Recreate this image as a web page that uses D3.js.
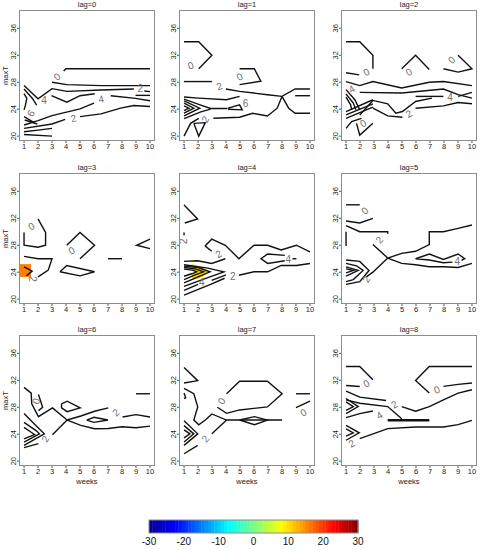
<!DOCTYPE html>
<html lang="en">
<head>
  <meta charset="UTF-8">
  <title>lag contours</title>
  <style>
  body { margin: 0; background: white; }
  svg { font-family: 'Liberation Sans', Arial, sans-serif; }
  .frame { fill: none; stroke: #8c8c8c; stroke-width: 1; }
  .contour { fill: none; stroke: #111; stroke-width: 1.4; stroke-linejoin: miter; }
  .clabel { fill: #707070; font-size: 10px; }
  .tick { font-size: 7.5px; fill: #222; }
  .title { font-size: 7.5px; fill: #222; }
  </style>
</head>
<body>
  <script src="https://d3js.org/d3.v7.min.js"></script>
  <script>

  var lags = [0, 1, 2, 3, 4, 5, 6, 7, 8];
  var weeks = [1, 2, 3, 4, 5, 6, 7, 8, 9, 10];
  var maxTTicks = [20, 24, 28, 32, 36];
  var legendTicks = [-30, -20, -10, 0, 10, 20, 30];

  // contour lines per lag, points are [week, maxT]
  var contourLines = [
    [ // lag 0
      [[3.83,29.65],[4,30],[10,30]],
      [[3.0,28.0],[4.06,27.65],[6.5,27.5],[10,27.5]],
      [[1,27.5],[2.0,25.55],[3.0,27.05],[4.06,26.65],[6.5,26.85],[8.85,27.0]],
      [[9.6,26.7],[10,26.6]],
      [[2.96,26.0],[4.06,25.05],[5.0,26.0],[6.05,26.3]],
      [[7.2,26.0],[8.97,25.6],[10,25.25]],
      [[8.97,26.05],[10,26.05]],
      [[5.0,22.9],[6.5,23.3],[7.9,24.15],[8.85,24.55],[10,24.4]],
      [[1,21.65],[2,22.3],[3,23.05],[5,24.05],[6,24.9]],
      [[1,21.15],[3,21.8],[3.94,22.5]],
      [[1,20.65],[2,20.9],[3,21.15]],
      [[1,20.25],[3,20]],
      [[1,26.3],[1.2,25.6],[1.1,24.6],[1,23.9]],
      [[1,22.9],[1.72,22.0]],
      [[1,27.0],[1.6,25.6],[1.9,24.6]],
      [[1.05,22.4],[1.95,21.8]]
    ],
    [ // lag 1
      [[1,34],[2.05,34],[2.99,32],[2.05,30]],
      [[1,28.1],[2.99,28.1]],
      [[3.99,27],[4.97,26.65],[6.96,26.15],[8.0,25.9],[8.94,27],[10,27]],
      [[4.97,30],[6.02,30],[6.49,28.15],[4.97,27.65]],
      [[8.94,26],[10,26]],
      [[8.0,25.9],[8.48,24.15],[8.94,23.4],[10,23.4]],
      [[3.1,22.65],[4.97,22.8],[5.9,23.4],[6.96,23.0],[7.66,24.15],[8.0,25.9]],
      [[4.15,24.15],[4.97,24.65],[5.16,23.9],[4.15,24.0]],
      [[1,25.8],[2.05,25.65],[4.03,25.4],[4.97,25.9]],
      [[1,24.5],[1.35,24.15],[1,23.8]],
      [[1,24.9],[1.7,24.15],[1,23.4]],
      [[1,25.25],[2.12,24.15],[1,23.0]],
      [[1,25.5],[2.2,24.6],[2.9,24.1],[4.1,24.1]],
      [[1,22.6],[2.2,23.6],[2.9,24.0]],
      [[1,20],[1.47,21.9],[2.05,22.65]],
      [[1.7,21.9],[2.52,22],[2.05,20],[1.7,21.9]]
    ],
    [ // lag 2
      [[1,34],[1.98,34],[2.92,32],[2.92,30]],
      [[1,29.4],[1.94,29.1]],
      [[4.98,30],[5.97,32],[6.95,29.9]],
      [[7.96,30],[9.01,29.5],[10,30],[9.01,32]],
      [[1,28.1],[1.98,27.5],[2.92,28.1],[4.98,27.15],[6.95,28],[7.96,28.1],[10,27.5]],
      [[1.98,26.5],[4.98,26.4],[7.96,27],[9.01,26.15],[10,25.65]],
      [[5.97,25.9],[7.96,25.9]],
      [[9.01,25.9],[10,26.5]],
      [[1.98,23.15],[2.92,25.3],[3.98,24.8],[4.56,23.4],[5.03,23.65],[5.97,25.15],[7.14,25.65]],
      [[5.97,24.15],[7.96,24.5],[9.01,25],[10,24.8]],
      [[2.92,24.15],[3.98,23],[5.03,22.8]],
      [[1,26.9],[1.63,25.4],[1.98,23.9]],
      [[1,26.25],[1.52,24.9],[1.7,23.9]],
      [[1,25.8],[1.33,24.65],[1.4,23.9]],
      [[1,23.65],[2.92,25.4]],
      [[1,23.15],[2.92,24.8]],
      [[1,22.65],[2.92,24.3]],
      [[1,21.15],[1.4,22.15],[2.1,22.65]],
      [[1.75,21.9],[1.98,20.15],[2.92,21.9]]
    ],
    [ // lag 3
      [[1,29.9],[1,28.0],[2.0,27.7],[2.54,28.0],[2.54,29.9],[2.0,31.9]],
      [[1,26.35],[2.0,26.0],[3.0,26.0],[2.73,24.3],[2.0,23.3]],
      [[1.0,24.8],[1.58,24.16],[1.17,23.45]],
      [[4.05,28.0],[5.0,29.9],[6.04,28.0],[5.0,26.0]],
      [[3.57,24.06],[4.05,25.0],[6.04,24.06],[5.0,23.45],[3.57,24.06]],
      [[7.0,26.0],[8.0,26.0]],
      [[10,28.9],[9.05,28.0],[10,27.5]]
    ],
    [ // lag 4
      [[1,33.97],[1.97,31.9],[1.05,31.3]],
      [[1,29.9],[1,29.5]],
      [[2.5,27.9],[2.98,28.9],[3.95,28.0],[4.92,26.0],[6.0,28.0],[6.98,28.0],[7.94,27.3],[9.03,28.0],[10,27.0]],
      [[2.5,27.9],[2.98,27.1]],
      [[8.2,26.5],[6.98,26.7],[6.5,26.0],[6.98,25.3],[8.2,25.7]],
      [[8.75,26],[9.03,26]],
      [[4.92,23.55],[6.0,24.06],[6.98,24.06],[7.94,25.0],[9.03,25.0],[10,25.3]],
      [[1.0,25.6],[1.97,25.7],[2.98,25.3],[3.95,26.0]],
      [[1,25.1],[2.7,24.6],[3.85,24.06],[2.7,23.2],[1,21.9]],
      [[1,24.9],[2.0,24.7],[2.86,24.06],[2.0,23.3],[1,22.4]],
      [[1,24.7],[1.8,24.5],[2.4,24.06],[1.8,23.6],[1,22.9]],
      [[1,24.45],[1.6,24.3],[1.9,24.06],[1.6,23.8],[1,23.4]],
      [[1,20.6],[2.9,22.2],[3.9,23.1]],
      [[1,21.3],[2.0,22.2]],
      [[2.98,22.8],[4.0,23.6]]
    ],
    [ // lag 5
      [[1,34],[1.98,34]],
      [[1,31.6],[1.98,31.3],[2.92,32.0]],
      [[1,30.9],[1.98,30.0],[3.98,30.0],[3.98,29.7]],
      [[1,30.0],[1,27.9]],
      [[2.92,28.1],[3.98,26.1],[2.92,24.0],[2.45,23.3]],
      [[3.98,26.1],[4.98,26.8],[5.97,27.1],[6.95,28.1],[6.95,30.0],[7.96,30.0],[9.01,30.5],[10,31.0]],
      [[3.98,26.1],[4.98,25.3],[5.97,25.1],[6.95,24.8],[7.96,24.8],[9.01,24.7],[10,25.3]],
      [[8.6,25.5],[7.96,25.4],[6.95,25.8],[5.97,26.0],[6.95,26.7],[7.96,25.9],[9.01,26.7],[9.48,26.0],[9.25,25.75]],
      [[1,25.8],[1.98,25.6],[2.64,24.26],[1.98,22.6],[1,22.2]],
      [[1,25.3],[1.75,24.95],[2.22,24.26],[1.52,22.9],[1,22.6]],
      [[1,24.8],[1.87,24.26],[1,23.4]],
      [[1,24.5],[1.52,24.26],[1,23.9]]
    ],
    [ // lag 6
      [[1,30.95],[1.51,30.1],[1.55,28.5],[2.03,26.6],[3.03,27.9],[4.08,26.1]],
      [[4.08,26.1],[5.06,26.7],[6.04,27.4],[7.02,27.9]],
      [[4.08,26.1],[5.06,25.3],[6.04,24.8],[7.02,24.85],[8.0,25.1],[9.0,24.95],[10,25.2]],
      [[4.08,26.1],[3.03,23.9]],
      [[2.03,29.9],[2.33,28.0],[2.03,27.5]],
      [[3.68,28.5],[4.08,28.9],[5.01,27.9],[4.08,27.35],[3.68,27.9],[3.68,28.5]],
      [[5.48,26.1],[6.0,26.5],[7.0,26.1],[6.0,25.75],[5.48,26.1]],
      [[8.04,26.55],[9.0,26.9],[10,26.55]],
      [[9,30],[10,30]],
      [[1,27.07],[1.86,25.27],[2.45,24.05],[1.63,23.07],[1,22.34]],
      [[1,25.76],[1.86,24.54],[2.1,24.05],[1,22.83]],
      [[1,25.02],[1.51,24.29],[1.75,23.95],[1,23.32]],
      [[1,22.0],[2.03,22.6]]
    ],
    [ // lag 7
      [[1,33.9],[1.98,31.95],[1,31.6]],
      [[1,30.8],[1.7,30.0],[1.98,28.05],[1.7,26.1],[2.05,25.4],[2.52,26.1],[2.99,27.0],[4.04,26.1],[8.01,26.1]],
      [[1,30.1],[1.12,29.4],[1,29.3]],
      [[4.04,30.0],[4.97,31.85],[6.96,31.85],[8.01,30.0],[6.96,28.05],[4.97,27.6],[4.04,27.1],[3.38,28.0]],
      [[4.97,26.1],[6.03,26.6],[6.96,26.1],[6.03,25.4],[4.97,26.1]],
      [[9,30],[10,30]],
      [[9,27.95],[10,28.9]],
      [[1,26.0],[1.98,24.05],[1,22.34]],
      [[1,25.27],[1.7,24.05],[1,22.83]],
      [[1,24.63],[1.42,24.05],[1,23.46]],
      [[1,21.1],[1.98,22.34]],
      [[2.99,24.05],[4.04,26.1]]
    ],
    [ // lag 8
      [[1,34.04],[1.98,34.04],[2.92,32.07]],
      [[1,31.23],[1.98,31.08]],
      [[10,34.04],[6.95,34.04],[5.97,31.97],[6.95,30.1]],
      [[7.96,31.1],[9.01,31.4],[10,31.6]],
      [[1,30.4],[1.98,29.5],[3.86,29.0]],
      [[4.98,28.1],[5.97,27.4],[6.95,28.1],[7.96,29.1],[9.01,30.1],[10,30.6]],
      [[1,29.1],[1.98,28.6],[3.98,28.1],[4.98,26.3]],
      [[3.98,26.15],[6.95,26.15]],
      [[3.98,26.0],[6.95,26.0]],
      [[1,26.45],[1.98,27.05],[2.92,27.45]],
      [[1,29.3],[1.87,28.1],[1,27.05]],
      [[1,28.8],[1.52,28.1],[1,27.55]],
      [[1.98,23.35],[3.98,24.83],[5.97,25.07],[7.96,25.07],[9.01,25.42],[10,26.06]],
      [[1,25.3],[1.94,24.2],[1,23.1]],
      [[1,24.8],[1.52,24.2],[1,23.7]]
    ]
  ];

  // contour labels per lag: [week, maxT, text, angle]
  var contourLabels = [
    [[3.36,28.8,'0',-40],[2.43,25.25,'4',0],[6.51,25.5,'4',-10],[9.3,27.0,'2',0],[4.53,22.65,'2',-15],[1.49,23.4,'6',-60]],
    [[1.47,30.5,'0',-20],[3.52,27.4,'2',-20],[4.97,28.8,'0',-30],[5.39,24.8,'6',0],[2.52,22.5,'2',-60]],
    [[2.45,29.5,'0',-30],[5.5,29.5,'0',-30],[8.55,31.3,'0',-40],[1.4,27.0,'4',-30],[8.43,25.75,'4',0],[5.5,23.3,'2',-30],[2.22,21.9,'0',-30]],
    [[1.53,30.8,'0',-30],[4.4,27.2,'0',-30],[1.58,23.0,'2',90]],
    [[0.93,28.6,'2',-90],[3.47,26.7,'2',-30],[8.45,25.95,'4',0],[4.48,23.3,'2',0],[2.26,22.5,'4',0]],
    [[2.34,33.1,'0',-40],[3.39,28.8,'2',-50],[2.45,22.95,'2',-60],[8.95,25.6,'4',0]],
    [[1.86,28.9,'0',-70],[7.57,27.2,'2',-40],[2.52,23.3,'2',-60]],
    [[3.69,28.9,'0',-60],[9.53,27.2,'0',-30],[2.52,23.3,'2',-50]],
    [[2.45,31.5,'0',-30],[7.49,30.6,'0',-20],[4.45,28.4,'2',-30],[3.39,26.8,'4',-30],[1.4,22.6,'2',-30]]
  ];

  // coloured (image) areas: lag, value, outline
  var fillLags = [3, 4];
  var fillValues = [15.7, 10.8];
  var fillShapes = [
    [[0.5,25.2],[1.5,25.2],[1.5,23.3],[0.5,23.3]],
    [[1.52,25.2],[2.23,24.8],[2.71,24.08],[2.36,23.33],[1.64,22.85],[1.52,23.7],[2.0,24.08],[1.52,24.35]]
  ];

  var pw = 136, ph = 131;
  var colX = [19, 179, 341];
  var rowY = [10, 173, 335];

  var jet = d3.scaleLinear()
              .domain([-30, -22.4, -7.1, 8.1, 23.3, 30])
              .range(['#00008f', '#0000ff', '#00ffff', '#ffff00', '#ff0000', '#800000'])
              .clamp(true);

  var svg = d3.select('body').append('svg')
              .attr('width', 484)
              .attr('height', 550);

  var x = d3.scaleLinear().domain([0.64, 10.36]).range([0, pw]);
  var y = d3.scaleLinear().domain([19.28, 38.72]).range([ph, 0]);
  var line = d3.line()
               .x(function (d) { return x(d[0]); })
               .y(function (d) { return y(d[1]); });

  lags.forEach(function (lag, i) {
    var col = i % 3, row = Math.floor(i / 3);
    var g = svg.append('g')
               .attr('transform', 'translate(' + colX[col] + ',' + rowY[row] + ')');

    g.append('clipPath').attr('id', 'clip' + i)
     .append('rect').attr('width', pw).attr('height', ph);

    var inner = g.append('g').attr('clip-path', 'url(#clip' + i + ')');

    fillLags.forEach(function (fl, k) {
      if (fl !== lag) return;
      inner.append('path')
           .attr('d', line(fillShapes[k]) + 'Z')
           .attr('fill', jet(fillValues[k]));
    });

    inner.selectAll('path.contour')
         .data(contourLines[i])
         .enter()
         .append('path')
         .attr('class', 'contour')
         .attr('d', line);

    inner.selectAll('text.clabel')
         .data(contourLabels[i])
         .enter()
         .append('text')
         .attr('class', 'clabel')
         .attr('text-anchor', 'middle')
         .attr('dominant-baseline', 'central')
         .attr('transform', function (d) {
           return 'translate(' + x(d[0]) + ',' + y(d[1]) + ') rotate(' + d[3] + ')';
         })
         .text(function (d) { return d[2]; });

    g.append('rect').attr('class', 'frame')
     .attr('x', 0.5).attr('y', 0.5)
     .attr('width', pw - 1).attr('height', ph - 1);

    g.append('text').attr('class', 'title')
     .attr('x', pw / 2).attr('y', -3)
     .attr('text-anchor', 'middle')
     .text('lag=' + lag);

    // x axis
    var xa = g.append('g').attr('transform', 'translate(0,' + ph + ')');
    xa.selectAll('line').data(weeks).enter().append('line')
      .attr('x1', x).attr('x2', x).attr('y1', 0).attr('y2', 2)
      .attr('stroke', '#555');
    xa.selectAll('text').data(weeks).enter().append('text')
      .attr('class', 'tick')
      .attr('x', x).attr('y', 7.5)
      .attr('text-anchor', 'middle')
      .text(function (d) { return d; });

    // y axis
    var ya = g.append('g');
    ya.selectAll('line').data(maxTTicks).enter().append('line')
      .attr('x1', -2).attr('x2', 0).attr('y1', y).attr('y2', y)
      .attr('stroke', '#555');
    ya.selectAll('text').data(maxTTicks).enter().append('text')
      .attr('class', 'tick')
      .attr('text-anchor', 'middle')
      .attr('transform', function (d) { return 'translate(-3,' + y(d) + ') rotate(-90)'; })
      .text(function (d) { return d; });

    if (col === 0) {
      g.append('text').attr('class', 'tick')
       .attr('text-anchor', 'middle')
       .attr('transform', 'translate(-11,' + ph / 2 + ') rotate(-90)')
       .text('maxT');
    }
    if (row === 2) {
      g.append('text').attr('class', 'tick')
       .attr('x', pw / 2).attr('y', ph + 17.5)
       .attr('text-anchor', 'middle')
       .text('weeks');
    }
  });

  // colour legend
  var lx = d3.scaleLinear().domain([-30, 30]).range([149, 358]);
  var steps = d3.range(64).map(function (k) { return -30 + (k + 0.5) * 60 / 64; });
  svg.append('g').selectAll('rect').data(steps).enter().append('rect')
     .attr('x', function (d) { return lx(d - 30 / 64); })
     .attr('y', 520)
     .attr('width', 60 / 64 * (lx(1) - lx(0)) + 0.4)
     .attr('height', 13)
     .attr('fill', jet);
  svg.append('rect').attr('class', 'frame')
     .attr('x', 149).attr('y', 520).attr('width', 209).attr('height', 13);
  svg.append('g').selectAll('text').data(legendTicks).enter().append('text')
     .attr('x', lx).attr('y', 545)
     .attr('text-anchor', 'middle')
     .attr('font-size', '10px')
     .attr('fill', '#111')
     .text(function (d) { return d; });
  </script>
</body>
</html>
